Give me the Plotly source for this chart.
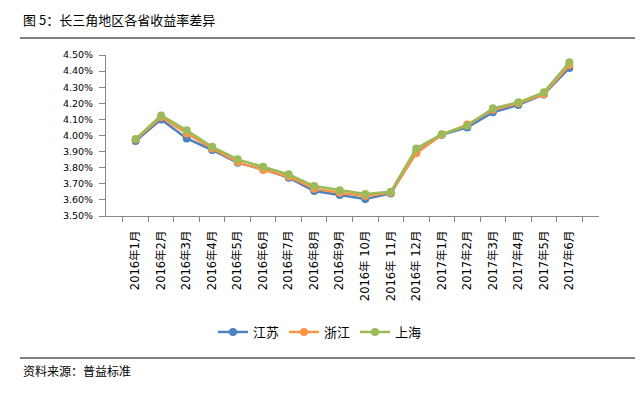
import plotly.graph_objects as go

categories = ["2016年1月", "2016年2月", "2016年3月", "2016年4月", "2016年5月", "2016年6月",
              "2016年7月", "2016年8月", "2016年9月", "2016年 10月", "2016年 11月", "2016年 12月",
              "2017年1月", "2017年2月", "2017年3月", "2017年4月", "2017年5月", "2017年6月"]
jiangsu = [3.966, 4.100, 3.982, 3.910, 3.830, 3.790, 3.738, 3.655, 3.630, 3.605, 3.640, 3.895,
           4.005, 4.050, 4.144, 4.190, 4.255, 4.420]
zhejiang = [3.975, 4.115, 4.013, 3.920, 3.835, 3.786, 3.745, 3.670, 3.645, 3.625, 3.645, 3.890,
            4.005, 4.068, 4.160, 4.200, 4.256, 4.438]
shanghai = [3.978, 4.125, 4.032, 3.930, 3.852, 3.806, 3.759, 3.686, 3.660, 3.637, 3.651, 3.920,
            4.008, 4.061, 4.169, 4.206, 4.268, 4.455]
series_names = ["江苏", "浙江", "上海"]
colors = ["#4F81BD", "#F79646", "#9BBB59"]
y_ticks = [3.5, 3.6, 3.7, 3.8, 3.9, 4.0, 4.1, 4.2, 4.3, 4.4, 4.5]

CJK = "Noto Sans CJK SC"
NUM = "DejaVu Sans, Noto Sans CJK SC"
fig = go.Figure()
for name, vals, c in zip(series_names, [jiangsu, zhejiang, shanghai], colors):
    fig.add_trace(go.Scatter(x=categories, y=vals, name=name, mode="lines+markers",
                             line=dict(color=c, width=2.5),
                             marker=dict(color=c, size=8)))

OFF = 8  # page body margin offset
W, H = 643, 396
L, T = 106 - OFF, 55 - OFF
pw, ph = 493, 161
R = W - L - pw
B = H - T - ph
def px(x): return (x - OFF - L) / pw
def py(y): return (T + ph - (y - OFF)) / ph

fig.update_layout(
    width=W, height=H,
    margin=dict(l=L, r=R, t=T, b=B, pad=0),
    paper_bgcolor="white", plot_bgcolor="white",
    font=dict(family=CJK, size=11, color="#000000"),
    showlegend=True,
    legend=dict(orientation="h", x=px(320), xanchor="center", y=py(332), yanchor="middle",
                font=dict(family=CJK, size=13, color="#000000"),
                bgcolor="rgba(0,0,0,0)"),
    xaxis=dict(type="category", showgrid=False, showline=True, linecolor="#868686", linewidth=1,
               ticks="outside", ticklen=5, tickcolor="#868686", tickson="boundaries",
               tickangle=-90, ticklabelstandoff=9,
               tickfont=dict(family=NUM, size=11.5, color="#000000")),
    yaxis=dict(range=[3.5, 4.5], tickvals=y_ticks,
               ticktext=[f"{v:.2f}%" for v in y_ticks],
               showgrid=False, showline=True, linecolor="#868686", linewidth=1,
               ticks="outside", ticklen=6, tickcolor="#868686", zeroline=False,
               ticklabelstandoff=4,
               tickfont=dict(family=NUM, size=9.5, color="#000000")),
    shapes=[
        dict(type="line", xref="paper", yref="paper", x0=px(20), x1=px(636), y0=py(38), y1=py(38),
             line=dict(color="#000000", width=1)),
        dict(type="line", xref="paper", yref="paper", x0=px(20), x1=px(636), y0=py(358), y1=py(358),
             line=dict(color="#000000", width=1)),
    ],
    annotations=[
        dict(text="图 5：长三角地区各省收益率差异", xref="paper", yref="paper", x=px(21), y=py(20),
             xanchor="left", yanchor="middle", showarrow=False,
             font=dict(family=CJK, size=13, color="#000000")),
        dict(text="资料来源：普益标准", xref="paper", yref="paper", x=px(21), y=py(370),
             xanchor="left", yanchor="middle", showarrow=False,
             font=dict(family=CJK, size=12, color="#000000")),
    ],
)
fig.write_html("out.html")
